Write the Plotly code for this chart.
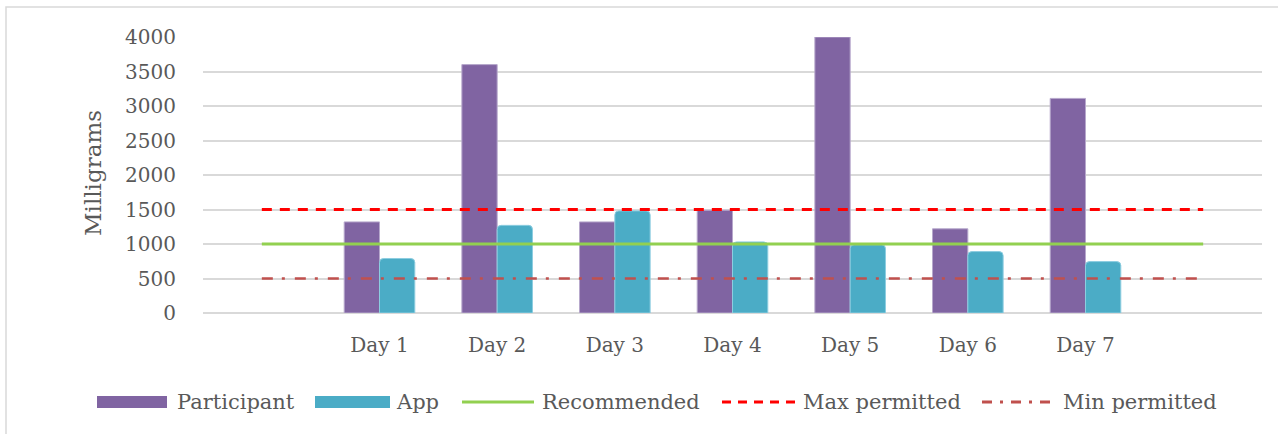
import plotly.graph_objects as go

# Daily intake (mg) for each day of the week
days = ["Day 1", "Day 2", "Day 3", "Day 4", "Day 5", "Day 6", "Day 7"]
participant = [1320, 3600, 1320, 1490, 4000, 1220, 3110]
app = [790, 1270, 1480, 1030, 990, 890, 745]

# Reference levels, drawn across the padded category range
recommended = 1000
max_permitted = 1500
min_permitted = 500

W, H = 1278, 434
L, R, T, B = 203, 1262, 37, 313   # plot area edges in pixels

FONT = "DejaVu Serif"
TXT = "#595959"
PURPLE = "#8064A2"
TEAL = "#4BACC6"
GREEN = "#92D050"
RED = "#FF0000"
BRICK = "#C0504D"
GRID = "#D9D9D9"


def px_x(px):
    return (px - L) / (R - L)


def px_y(py):
    return (B - py) / (B - T)


x_days = list(range(1, len(days) + 1))
x_full = list(range(0, len(days) + 2))

fig = go.Figure()
fig.add_trace(go.Bar(
    x=x_days, y=participant, name="Participant",
    marker=dict(color=PURPLE, line=dict(color="#B7A8CC", width=1)),
))
fig.add_trace(go.Bar(
    x=x_days, y=app, name="App",
    marker=dict(color=TEAL, line=dict(color="#8CCDE0", width=1), cornerradius=4),
))
fig.add_trace(go.Scatter(
    x=x_full, y=[recommended] * len(x_full), name="Recommended", mode="lines",
    line=dict(color=GREEN, width=3),
))
fig.add_trace(go.Scatter(
    x=x_full, y=[max_permitted] * len(x_full), name="Max permitted", mode="lines",
    line=dict(color=RED, width=3, dash="10px,8px"),
))
fig.add_trace(go.Scatter(
    x=x_full, y=[min_permitted] * len(x_full), name="Min permitted", mode="lines",
    line=dict(color=BRICK, width=2.5, dash="11px,9px,3px,10px"),
))

# Legend drawn below the plot with wide swatches
legend_items = [
    ("Participant", "bar", PURPLE, None, 97, 167, 175),
    ("App", "bar", TEAL, None, 315, 390, 394),
    ("Recommended", "line", GREEN, None, 462, 534, 540),
    ("Max permitted", "line", RED, "dash", 722, 795, 801),
    ("Min permitted", "line", BRICK, "dashdot", 982, 1054, 1061),
]
shapes = []
annotations = []
ly = 402
for label, kind, color, dash, s0, s1, tx in legend_items:
    if kind == "bar":
        shapes.append(dict(
            type="rect", xref="paper", yref="paper",
            x0=px_x(s0), x1=px_x(s1), y0=px_y(ly + 6), y1=px_y(ly - 6),
            fillcolor=color, line=dict(color="#FFFFFF", width=0),
        ))
    else:
        ldash = {"dash": "9px,7px", "dashdot": "10px,8px,3px,8px"}.get(dash, "solid")
        shapes.append(dict(
            type="line", xref="paper", yref="paper",
            x0=px_x(s0), x1=px_x(s1), y0=px_y(ly), y1=px_y(ly),
            line=dict(color=color, width=3, dash=ldash),
        ))
    annotations.append(dict(
        text=label, xref="paper", yref="paper", x=px_x(tx), y=px_y(ly),
        xanchor="left", yanchor="middle", showarrow=False,
        font=dict(family=FONT, size=21, color=TXT),
    ))

# Y axis title
annotations.append(dict(
    text="Milligrams", xref="paper", yref="paper", x=px_x(93), y=px_y(173),
    xanchor="center", yanchor="middle", textangle=-90, showarrow=False,
    font=dict(family=FONT, size=23, color=TXT),
))

# Chart frame
shapes.append(dict(
    type="rect", xref="paper", yref="paper",
    x0=px_x(6), x1=px_x(W + 20), y0=px_y(H + 20), y1=px_y(7),
    line=dict(color="#D9D9D9", width=1.5), fillcolor="rgba(0,0,0,0)", layer="below",
))

fig.update_layout(
    width=W, height=H,
    margin=dict(l=L, r=W - R, t=T, b=H - B, pad=0),
    paper_bgcolor="white", plot_bgcolor="white",
    barmode="group", bargap=0.40, bargroupgap=0,
    showlegend=False,
    shapes=shapes, annotations=annotations,
    font=dict(family=FONT, color=TXT),
)
fig.update_xaxes(
    range=[-0.5, len(days) + 1.5],
    tickmode="array", tickvals=x_days, ticktext=days,
    showgrid=False, zeroline=False, showline=False,
    ticks="outside", ticklen=14, tickcolor="rgba(0,0,0,0)",
    tickfont=dict(family=FONT, size=20, color=TXT),
)
fig.update_yaxes(
    range=[0, 4000], tickmode="linear", tick0=0, dtick=500,
    showgrid=True, gridcolor=GRID, gridwidth=1.5,
    zeroline=True, zerolinecolor=GRID, zerolinewidth=1.5,
    showline=False,
    ticks="outside", ticklen=22, tickcolor="rgba(0,0,0,0)",
    tickfont=dict(family=FONT, size=20, color=TXT),
)

fig.write_html("out.html")
